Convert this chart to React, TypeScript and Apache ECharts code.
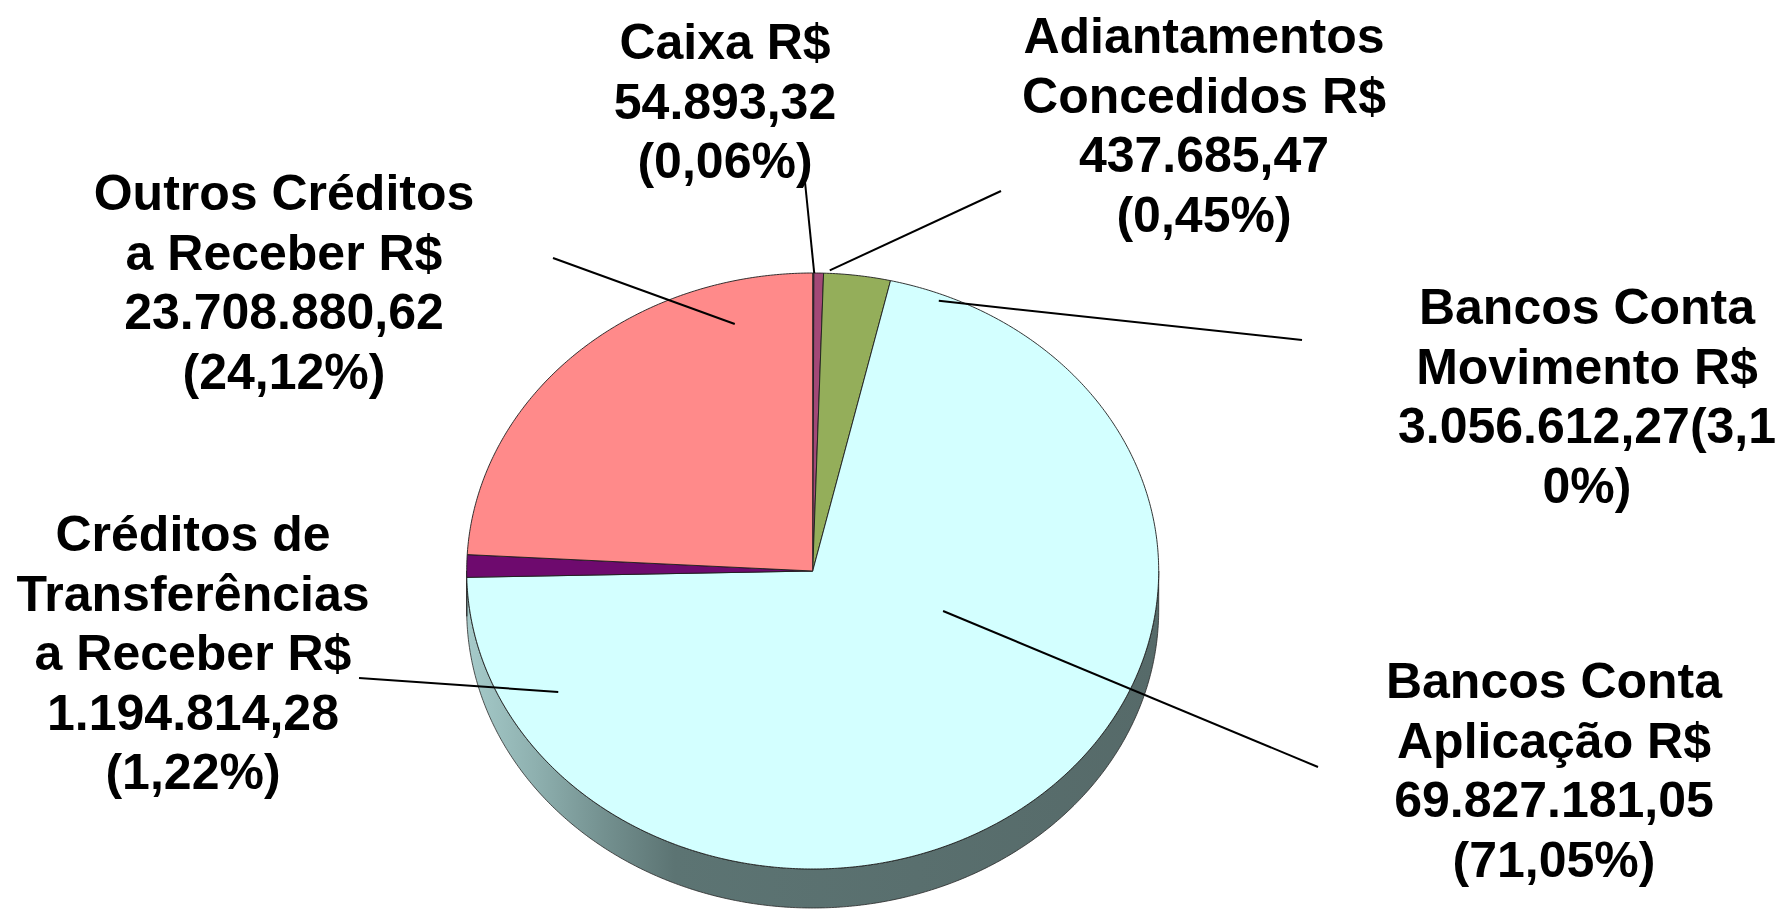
import React, { useEffect, useRef } from "react";
import * as echarts from "echarts";

// ---------- data ----------
const categories = [
  "Caixa",
  "Adiantamentos Concedidos",
  "Bancos Conta Movimento",
  "Bancos Conta Aplicação",
  "Créditos de Transferências a Receber",
  "Outros Créditos a Receber",
];
const values = [54893.32, 437685.47, 3056612.27, 69827181.05, 1194814.28, 23708880.62];
const percentTexts = ["0,06%", "0,45%", "3,10%", "71,05%", "1,22%", "24,12%"];
const labelLines = [
  ["Caixa R$", "54.893,32", "(0,06%)"],
  ["Adiantamentos", "Concedidos R$", "437.685,47", "(0,45%)"],
  ["Bancos Conta", "Movimento R$", "3.056.612,27(3,1", "0%)"],
  ["Bancos Conta", "Aplicação R$", "69.827.181,05", "(71,05%)"],
  ["Créditos de", "Transferências", "a Receber R$", "1.194.814,28", "(1,22%)"],
  ["Outros Créditos", "a Receber R$", "23.708.880,62", "(24,12%)"],
];
const sliceColors = ["#9a3d6c", "#a34877", "#94ae5a", "#d3ffff", "#6e0a6e", "#ff8a8a"];

// ---------- layout (reference pixel space 1781 x 909) ----------
const REF_W = 1781;
const REF_H = 909;
const PIE = { cx: 812.7, cy: 571, rx: 346, ry: 298, depth: 39 };
const FONT_SIZE = 50;
const LINE_GAP = 59.5;
// first-line centre of each label
const labelPos = [
  [725, 42],
  [1204, 36],
  [1587, 307],
  [1554, 681],
  [193, 534],
  [284, 193],
];
// leader line: start point near label, end given in pie polar coords (deg clockwise from top, radius fraction)
const leaderStart = [
  [805, 182],
  [1001, 191],
  [1302, 340],
  [1318, 767],
  [359, 678],
  [553, 258],
];
const leaderEnd = [
  [0.25, 1.0],
  [2.8, 1.01],
  [21.9, 0.977],
  [109.6, 0.4],
  [241.1, 0.84],
  [344.8, 0.859],
];

const total = values.reduce((a, b) => a + b, 0);
const startAngles: number[] = [];
const endAngles: number[] = [];
{
  let cum = 0;
  values.forEach((v) => {
    startAngles.push((cum / total) * 360);
    cum += v;
    endAngles.push((cum / total) * 360);
  });
}

function makeOption() {
  return {
    animation: false,
    backgroundColor: "#ffffff",
    series: [
      {
        type: "custom",
        coordinateSystem: "none",
        data: values.map((v, i) => ({ name: categories[i], value: v })),
        renderItem: (params: any, api: any) => {
          const i = params.dataIndex;
          const sx = api.getWidth() / REF_W;
          const sy = api.getHeight() / REF_H;
          const pt = (deg: number, r = 1, dy = 0): number[] => {
            const t = (deg * Math.PI) / 180;
            return [
              (PIE.cx + PIE.rx * r * Math.sin(t)) * sx,
              (PIE.cy - PIE.ry * r * Math.cos(t) + dy) * sy,
            ];
          };
          const arc = (a: number, b: number, dy = 0): number[][] => {
            const n = Math.max(2, Math.ceil((b - a) / 0.5) + 1);
            const out: number[][] = [];
            for (let k = 0; k < n; k++) out.push(pt(a + ((b - a) * k) / (n - 1), 1, dy));
            return out;
          };
          const a = startAngles[i];
          const b = endAngles[i];
          const children: any[] = [];

          // side (front half: 90..270 deg)
          const sa = Math.max(a, 90);
          const sb = Math.min(b, 270);
          if (sb > sa) {
            const top = arc(sa, sb, 0);
            const bottom = arc(sa, sb, PIE.depth).reverse();
            children.push({
              type: "polygon",
              z2: 1,
              shape: { points: top.concat(bottom) },
              style: {
                fill: {
                  type: "linear",
                  x: 0,
                  y: 0,
                  x2: 1,
                  y2: 0,
                  colorStops: [
                    { offset: 0, color: "#a6cbca" },
                    { offset: 0.1, color: "#8eb0af" },
                    { offset: 0.2, color: "#73908f" },
                    { offset: 0.3, color: "#5c7473" },
                    { offset: 1, color: "#566a69" },
                  ],
                },
                stroke: "#2a2a2a",
                lineWidth: 0.8,
              },
            });
          }

          // top face
          const topPts = [pt(0, 0)].concat(arc(a, b, 0));
          children.push({
            type: "polygon",
            z2: 2,
            shape: { points: topPts },
            style: { fill: sliceColors[i], stroke: "#1e1e1e", lineWidth: 0.9 },
          });

          // leader line
          const e = pt(leaderEnd[i][0], leaderEnd[i][1]);
          children.push({
            type: "line",
            z2: 3,
            shape: {
              x1: leaderStart[i][0] * sx,
              y1: leaderStart[i][1] * sy,
              x2: e[0],
              y2: e[1],
            },
            style: { stroke: "#000000", lineWidth: 2 },
          });

          // label lines
          labelLines[i].forEach((line, k) => {
            children.push({
              type: "text",
              z2: 4,
              x: labelPos[i][0] * sx,
              y: (labelPos[i][1] + k * LINE_GAP) * sy,
              style: {
                text: line,
                fill: "#000000",
                fontSize: FONT_SIZE,
                fontWeight: "bold",
                fontFamily: "'Liberation Sans', Arial, sans-serif",
                align: "center",
                verticalAlign: "middle",
              },
            });
          });

          return { type: "group", children };
        },
      },
    ],
  };
}

export default function App() {
  const ref = useRef<HTMLDivElement>(null);
  useEffect(() => {
    document.body.style.margin = "0";
    const chart = echarts.init(ref.current as HTMLDivElement, null, { renderer: "svg" });
    chart.setOption(makeOption() as any);
    return () => chart.dispose();
  }, []);
  return <div ref={ref} style={{ width: REF_W, height: REF_H, background: "#fff" }} />;
}
